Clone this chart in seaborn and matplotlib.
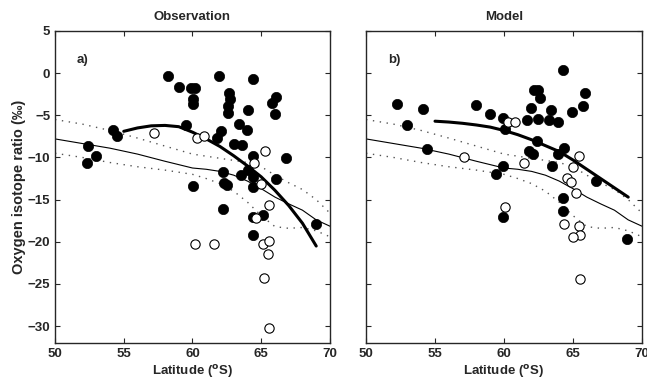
import matplotlib
matplotlib.use("Agg")
import matplotlib.pyplot as plt
import numpy as np
import pandas as pd
import seaborn as sns

##### DADOS ######################################################################
# observacoes (pontos cheios / vazios)
obs_cheio_lat = [58.2, 59.0, 59.9, 60.2, 60.06, 60.06, 61.95, 62.65, 62.7, 62.56, 62.56, 64.4,
                 66.07, 65.8, 66.0, 64.06, 63.4, 64.0, 59.5, 62.1, 61.76, 54.2, 54.5, 52.4,
                 53.0, 52.3, 63.0, 63.6, 64.4, 66.8, 62.24, 64.06, 63.55, 64.4, 66.05, 60.06,
                 62.3, 62.5, 64.4, 62.2, 64.4, 65.1, 69.0, 64.4]
obs_cheio_val = [-0.4, -1.7, -1.8, -1.8, -3.1, -3.7, -0.4, -2.4, -3.1, -3.9, -4.7, -0.7,
                 -2.8, -3.6, -4.9, -4.4, -6.0, -6.7, -6.1, -6.9, -7.65, -6.8, -7.4, -8.6,
                 -9.8, -10.6, -8.45, -8.5, -9.8, -10.1, -11.7, -11.5, -12.1, -12.3, -12.5, -13.4,
                 -13.0, -13.3, -13.5, -16.15, -17.0, -16.8, -17.9, -19.2]
obs_vazio_lat = [57.2, 60.3, 60.86, 65.3, 64.5, 65.0, 65.56, 64.6, 60.2, 61.56, 65.1, 65.6,
                 65.5, 65.2, 65.6]
obs_vazio_val = [-7.1, -7.65, -7.5, -9.2, -10.6, -13.1, -15.6, -17.2, -20.2, -20.2, -20.2, -19.9,
                 -21.5, -24.3, -30.2]
obs_ajuste_lat = [55, 56, 57, 58, 59, 60, 61, 62, 63, 64, 65, 66, 67, 68, 69]
obs_ajuste_val = [-6.9, -6.5, -6.25, -6.2, -6.35, -7.0, -7.8, -8.7, -9.8, -11.0, -12.3, -13.9,
                  -15.7, -17.8, -20.5]

# modelo
mod_cheio_lat = [52.27, 54.1, 52.95, 58.0, 59.0, 59.95, 60.1, 62.17, 62.45, 62.6, 61.96, 63.4,
                 61.7, 62.45, 63.26, 63.9, 64.3, 65.9, 65.7, 64.96, 62.4, 54.4, 61.8, 62.1,
                 64.35, 63.9, 63.45, 59.95, 59.4, 66.7, 64.3, 64.3, 59.95, 68.9]
mod_cheio_val = [-3.7, -4.3, -6.2, -3.8, -4.8, -5.3, -6.6, -2.0, -2.0, -2.9, -4.1, -4.4,
                 -5.5, -5.45, -5.6, -5.8, 0.4, -2.4, -3.9, -4.6, -8.05, -9.0, -9.2, -9.6,
                 -8.85, -9.6, -11.0, -11.0, -11.95, -12.8, -14.8, -16.3, -17.0, -19.7]
mod_vazio_lat = [60.3, 60.8, 57.1, 61.45, 65.4, 65.0, 64.55, 64.86, 65.2, 60.1, 64.35, 65.4,
                 65.5, 64.97, 65.5]
mod_vazio_val = [-5.8, -5.8, -10.0, -10.7, -9.8, -11.15, -12.4, -12.9, -14.2, -15.9, -17.9, -18.1,
                 -19.2, -19.4, -24.4]
mod_ajuste_lat = [55, 56, 57, 58, 59, 60, 61, 62, 63, 64, 65, 66, 67, 68, 69]
mod_ajuste_val = [-5.7, -5.8, -5.95, -6.15, -6.4, -6.8, -7.3, -7.9, -8.6, -9.3, -10.3, -11.4,
                  -12.5, -13.6, -14.7]

# media zonal e envelope (mesmo nos dois paineis)
zonal_lat = [50, 52, 54, 56, 58, 60, 61, 62, 63, 64, 65, 66, 67, 68, 69, 70]
zonal_med = [-7.8, -8.35, -8.9, -9.6, -10.45, -11.25, -11.4, -11.65, -12.1, -12.8, -13.7, -14.7,
             -15.5, -16.25, -17.4, -18.15]
zonal_sup = [-5.5, -6.05, -6.8, -7.7, -8.65, -9.6, -9.85, -10.1, -10.35, -10.6, -11.1, -12.1,
             -13.0, -13.8, -15.0, -16.6]
zonal_inf = [-9.5, -10.0, -10.6, -11.1, -11.5, -12.0, -12.5, -13.1, -14.0, -15.3, -16.9, -18.2,
             -18.4, -18.3, -18.7, -19.4]

paineis = [("Observation", "a)", obs_cheio_lat, obs_cheio_val, obs_vazio_lat, obs_vazio_val,
            obs_ajuste_lat, obs_ajuste_val),
           ("Model", "b)", mod_cheio_lat, mod_cheio_val, mod_vazio_lat, mod_vazio_val,
            mod_ajuste_lat, mod_ajuste_val)]

##### FIGURA #####################################################################
sns.set_style("ticks")
plt.rcParams["font.family"] = ["Liberation Sans", "DejaVu Sans"]
plt.rcParams["font.weight"] = "bold"
plt.rcParams["axes.labelweight"] = "bold"
plt.rcParams["axes.titleweight"] = "bold"

fig = plt.figure(figsize = (6.47, 3.82), dpi = 100)
posicoes = [[0.085, 0.102, 0.425, 0.817], [0.5657, 0.102, 0.4266, 0.817]]

for i, (titulo, letra, cx, cy, vx, vy, ax_lat, ax_val) in enumerate(paineis):
	ax = fig.add_axes(posicoes[i])
	zonal = pd.DataFrame({"lat": zonal_lat, "med": zonal_med, "sup": zonal_sup, "inf": zonal_inf})
	sns.lineplot(data = zonal, x = "lat", y = "med", ax = ax, color = "black", lw = 0.8)
	for col in ["sup", "inf"]:
		sns.lineplot(data = zonal, x = "lat", y = col, ax = ax, color = "#555555",
					 lw = 1.0, linestyle = (0, (1, 4)))
	sns.lineplot(x = ax_lat, y = ax_val, ax = ax, color = "black", lw = 2.2)
	sns.scatterplot(x = cx, y = cy, ax = ax, color = "black", s = 55, edgecolor = "black",
					linewidth = 0.5, zorder = 3)
	sns.scatterplot(x = vx, y = vy, ax = ax, facecolor = "white", s = 45, edgecolor = "black",
					linewidth = 0.8, zorder = 4)
	ax.set_xlim(50, 70)
	ax.set_ylim(-32, 5)
	ax.set_xticks([50, 55, 60, 65, 70])
	ax.set_yticks([5, 0, -5, -10, -15, -20, -25, -30])
	ax.tick_params(direction = "in", top = True, right = True, length = 3.5, width = 0.8,
				   labelsize = 9.5, pad = 3.5)
	for s in ax.spines.values():
		s.set_linewidth(1.0)
	ax.set_title(titulo, fontsize = 9.5, pad = 8)
	ax.set_xlabel("Latitude ($\\mathbf{^{o}}$S)", fontsize = 9.5, labelpad = 2)
	ax.text(51.6, 1.6, letra, fontsize = 9.5, weight = "bold", ha = "left", va = "center")
	if i == 0:
		ax.set_ylabel("Oxygen isotope ratio (‰)", fontsize = 10.5, labelpad = 1)
	else:
		ax.set_ylabel("")
		ax.set_yticklabels([])

plt.savefig("out.png", dpi = 100)
